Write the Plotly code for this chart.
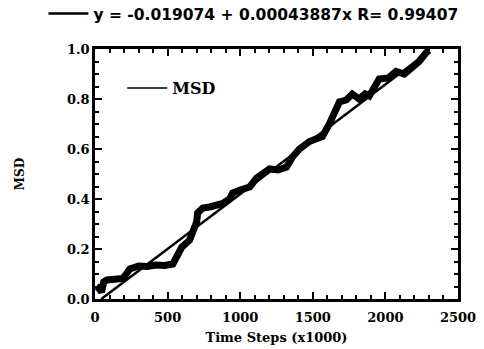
import numpy as np
import plotly.graph_objects as go

# MSD data (time steps x1000, MSD)
time_steps = [10, 25, 45, 60, 82, 120, 160, 192, 220, 240, 300, 360, 420, 480, 536,
              570, 598, 630, 652, 673, 700, 707, 742, 790, 838, 880, 927, 948, 1000,
              1065, 1113, 1160, 1202, 1260, 1319, 1360, 1408, 1477, 1520, 1566, 1614,
              1650, 1683, 1730, 1772, 1820, 1860, 1889, 1930, 1957, 2020, 2074, 2130,
              2184, 2232, 2280, 2300]
msd = [0.050, 0.045, 0.028, 0.068, 0.076, 0.078, 0.078, 0.082, 0.104, 0.120, 0.132,
       0.130, 0.136, 0.134, 0.140, 0.180, 0.208, 0.224, 0.236, 0.268, 0.308, 0.344,
       0.364, 0.368, 0.376, 0.382, 0.400, 0.424, 0.436, 0.448, 0.484, 0.500, 0.520,
       0.516, 0.528, 0.568, 0.600, 0.630, 0.640, 0.650, 0.700, 0.750, 0.788, 0.796,
       0.820, 0.800, 0.820, 0.812, 0.850, 0.880, 0.884, 0.910, 0.900, 0.925, 0.950,
       0.985, 0.995]

fit_intercept = -0.019074
fit_slope = 0.00043887
fit_label = "y = -0.019074 + 0.00043887x R= 0.99407"

x_ticks = [0, 500, 1000, 1500, 2000, 2500]
y_ticks = [0.0, 0.2, 0.4, 0.6, 0.8, 1.0]
y_tick_text = ["0.0", "0.2", "0.4", "0.6", "0.8", "1.0"]

fit_x = np.array([-fit_intercept / fit_slope, max(time_steps)])
fit_y = fit_intercept + fit_slope * fit_x

fig = go.Figure()
fig.add_trace(go.Scatter(x=time_steps, y=msd, mode="lines",
                         line=dict(color="black", width=7, shape="linear"),
                         showlegend=False, hoverinfo="skip"))
fig.add_trace(go.Scatter(x=[None], y=[None], mode="lines", name="<b>MSD</b>",
                         line=dict(color="black", width=1.5), legend="legend"))
fig.add_trace(go.Scatter(x=fit_x, y=fit_y, mode="lines", name="<b>" + fit_label + "</b>",
                         line=dict(color="black", width=2.5), legend="legend2"))

serif = "DejaVu Serif"
axis_common = dict(showline=True, linecolor="black", linewidth=2.5, mirror="ticks",
                   ticks="inside", ticklen=7, tickwidth=2, tickcolor="black",
                   showgrid=False, zeroline=False,
                   tickfont=dict(family=serif, size=13, color="black"))

fig.update_layout(
    width=484, height=349,
    margin=dict(l=95, r=26, t=49, b=50, autoexpand=False),
    paper_bgcolor="white", plot_bgcolor="white",
    xaxis=dict(range=[0, 2500], tickvals=x_ticks,
               ticktext=["<b>%d</b>" % v for v in x_ticks], ticklabelstandoff=5,
               minor=dict(dtick=100, ticks="inside", ticklen=4, tickwidth=1.5, tickcolor="black"),
               title=dict(text="<b>Time Steps (x1000)</b>", standoff=9,
                          font=dict(family=serif, size=13, color="black")),
               **axis_common),
    yaxis=dict(range=[0, 1.0], tickvals=y_ticks, ticktext=["<b>" + t + "</b>" for t in y_tick_text],
               minor=dict(dtick=0.05, ticks="inside", ticklen=4, tickwidth=1.5, tickcolor="black"),
               title=dict(text="<b>MSD</b>", standoff=40,
                          font=dict(family=serif, size=12, color="black")),
               **axis_common),
    legend=dict(x=0.075, y=0.844, xanchor="left", yanchor="middle", bgcolor="rgba(0,0,0,0)",
                font=dict(family=serif, size=16, color="black"), itemwidth=40),
    legend2=dict(x=-0.142, y=1.14, xanchor="left", yanchor="middle", bgcolor="rgba(0,0,0,0)",
                 font=dict(family="DejaVu Sans", size=15.5, color="black"), itemwidth=40),
)

fig.write_html("out.html")
